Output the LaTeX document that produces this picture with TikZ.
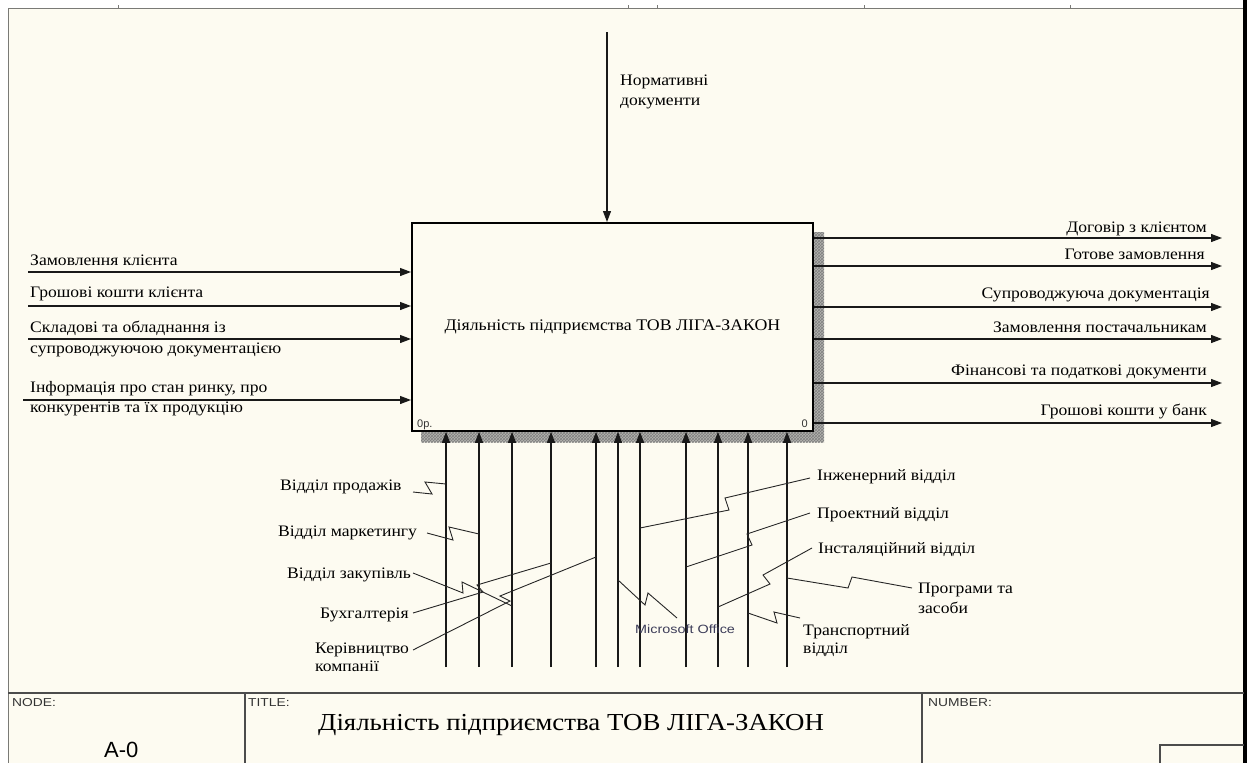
\documentclass[tikz,border=0pt]{standalone}
\usepackage{fontspec}
\setmainfont[FakeStretch=1.1]{Liberation Serif}
\newfontfamily\sansf{Liberation Sans}
\newfontfamily\sansw[FakeStretch=1.2]{Liberation Sans}
\usetikzlibrary{arrows.meta,patterns}
\definecolor{paper}{HTML}{FDFBF1}
\definecolor{shadowc}{HTML}{B4B4B0}
\definecolor{hatchc}{HTML}{808080}
\definecolor{frameg}{HTML}{7A7A76}
\definecolor{msgray}{HTML}{3C3C58}
\begin{document}
\begin{tikzpicture}[x=1pt,y=-1pt,
  lbl/.style={font=\fontsize{16}{20}\selectfont, inner sep=0pt, align=left},
  lblr/.style={font=\fontsize{16}{20}\selectfont, inner sep=0pt, align=right},
  small/.style={font=\sansw\fontsize{11.5}{13}\selectfont, inner sep=0pt, text=black!80},
  arr/.style={draw=black!90, line width=1.2pt, -{Triangle[length=11pt,width=8pt]}},
  lead/.style={draw=black!85, line width=0.9pt, line join=miter},
  frm/.style={draw=frameg, line width=1pt},
  blk/.style={draw=black!70, line width=1.3pt},
  shadowfill/.style={fill=shadowc, postaction={pattern=crosshatch, pattern color=hatchc}}
]
\useasboundingbox (0,0) rectangle (1249,763);
\fill[white] (0,0) rectangle (1249,763);
\fill[paper] (8,8) rectangle (1245,763);

% frame
\draw[frm] (8,8) -- (1243,8);
\draw[frm] (8,8) -- (8,763);
\foreach \tx in {118,628,657,864,1070} \draw[frm] (\tx,5) -- (\tx,8);
\draw[black, line width=3.5pt] (1245,0) -- (1245,763);

% title block
\draw[blk] (8,693) -- (1244,693);
\draw[blk] (245,693) -- (245,763);
\draw[blk] (922,693) -- (922,763);
\draw[blk] (1160,763) -- (1160,745) -- (1244,745);
\node[small, anchor=north west] (nodelbl) at (12,698) {NODE:};
\node[small, anchor=north west] (titlelbl) at (248,698) {TITLE:};
\node[small, anchor=north west] (numlbl) at (928,698) {NUMBER:};
\node[font=\sansf\fontsize{22}{24}\selectfont, inner sep=0pt, anchor=base west] (nodeno) at (104,757) {A-0};
\node[font=\fontsize{24.4}{26}\selectfont, inner sep=0pt, anchor=base west] (title) at (318,730) {Діяльність підприємства ТОВ ЛІГА-ЗАКОН};

% shadow and box
\path[shadowfill] (812,232) rectangle (824,442);
\path[shadowfill] (421,430) rectangle (812,442);
\node[draw=black, line width=1.8pt, fill=paper, minimum width=401pt, minimum height=208pt,
      inner sep=0pt, anchor=north west, font=\fontsize{16.2}{18}\selectfont] (box) at (411,222)
      {Діяльність підприємства ТОВ ЛІГА-ЗАКОН};
\node[anchor=base west, inner sep=0pt, text=black!80, font=\sansf\fontsize{11}{12}\selectfont] (bl) at (417,427) {0р.};
\node[anchor=base east, inner sep=0pt, text=black!80, font=\sansf\fontsize{11}{12}\selectfont] (br) at (808,427) {0};

% control
\coordinate (c1) at (607,32);
\draw[arr] (c1) -- (c1 |- box.north);
\node[lbl, anchor=base west] (ctl) at (620,105) {Нормативні\\документи};

% inputs
\coordinate (i1) at (28,272);
\coordinate (i2) at (28,306);
\coordinate (i3) at (28,339);
\coordinate (i4) at (23,400);
\foreach \i in {1,...,4} \draw[arr] (i\i) -- (i\i -| box.west);
\node[lbl, anchor=base west] (in1) at (30,265) {Замовлення клієнта};
\node[lbl, anchor=base west] (in2) at (30,297) {Грошові кошти клієнта};
\node[lbl, anchor=base west, font=\fontsize{16}{21}\selectfont] (in3) at (30,353) {Складові та обладнання із\\супроводжуючою документацією};
\node[lbl, anchor=base west] (in4) at (30,412) {Інформація про стан ринку, про\\конкурентів та їх продукцію};

% outputs
\foreach \i/\yy in {1/238,2/266,3/307,4/339,5/383,6/423}{
  \coordinate (o\i) at (1222,\yy);
  \draw[arr] (o\i -| box.east) -- (o\i);
}
\node[lblr, anchor=base east] (out1) at (1207,232) {Договір з клієнтом};
\node[lblr, anchor=base east] (out2) at (1205,259) {Готове замовлення};
\node[lblr, anchor=base east] (out3) at (1210,298) {Супроводжуюча документація};
\node[lblr, anchor=base east] (out4) at (1207,332) {Замовлення постачальникам};
\node[lblr, anchor=base east] (out5) at (1207,375) {Фінансові та податкові документи};
\node[lblr, anchor=base east] (out6) at (1207,415) {Грошові кошти у банк};

% mechanisms
\foreach \i/\xx in {1/446,2/479,3/512,4/551,5/596,6/618,7/640,8/686,9/718,10/748,11/787}{
  \coordinate (m\i) at (\xx,667);
  \draw[arr] (m\i) -- (m\i |- box.south);
}
\node[lbl, anchor=base west] (me1) at (280,490) {Відділ продажів};
\node[lbl, anchor=base west] (me2) at (278,536) {Відділ маркетингу};
\node[lbl, anchor=base west] (me3) at (287,578) {Відділ закупівль};
\node[lbl, anchor=base west] (me4) at (320,618) {Бухгалтерія};
\node[lbl, anchor=base west, font=\fontsize{16}{18}\selectfont] (me5) at (315,671) {Керівництво\\компанії};
\node[font=\sansw\fontsize{12}{14}\selectfont, text=msgray, inner sep=0pt, anchor=base west] (me6) at (635,633) {Microsoft Office};
\node[lbl, anchor=base west] (me7) at (817,480) {Інженерний відділ};
\node[lbl, anchor=base west] (me8) at (817,518) {Проектний відділ};
\node[lbl, anchor=base west] (me9) at (818,553) {Інсталяційний відділ};
\node[lbl, anchor=base west, font=\fontsize{16}{18}\selectfont] (me10) at (803,653) {Транспортний\\відділ};
\node[lbl, anchor=base west] (me11) at (918,613) {Програми та\\засоби};

% leader lines with squiggles: start, zig1, zig2, end on arrow
\foreach \n/\ax/\ay/\px/\py/\qx/\qy/\bx/\by in {
  1/413/492/432/494/425/482/446/484,
  2/427/533/453/540/449/527/479/534,
  3/413/573/463/593/462/582/512/606,
  4/413/613/483/592/477/585/551/563,
  5/413/650/510/601/500/596/596/557,
  6/677/618/648/593/645/605/618/580,
  7/810/478/725/498/729/510/640/528,
  8/810/513/747/534/752/545/686/567,
  9/812/548/763/575/770/584/718/607,
  10/800/618/774/612/777/623/748/613,
  11/912/588/852/577/848/588/787/578}{
  \coordinate (la\n) at (\ax,\ay);
  \coordinate (lp\n) at (\px,\py);
  \coordinate (lq\n) at (\qx,\qy);
  \coordinate (lb\n) at (\bx,\by);
  \draw[lead] (la\n) -- (lp\n) -- (lq\n) -- (lb\n);
}
\end{tikzpicture}
\end{document}
